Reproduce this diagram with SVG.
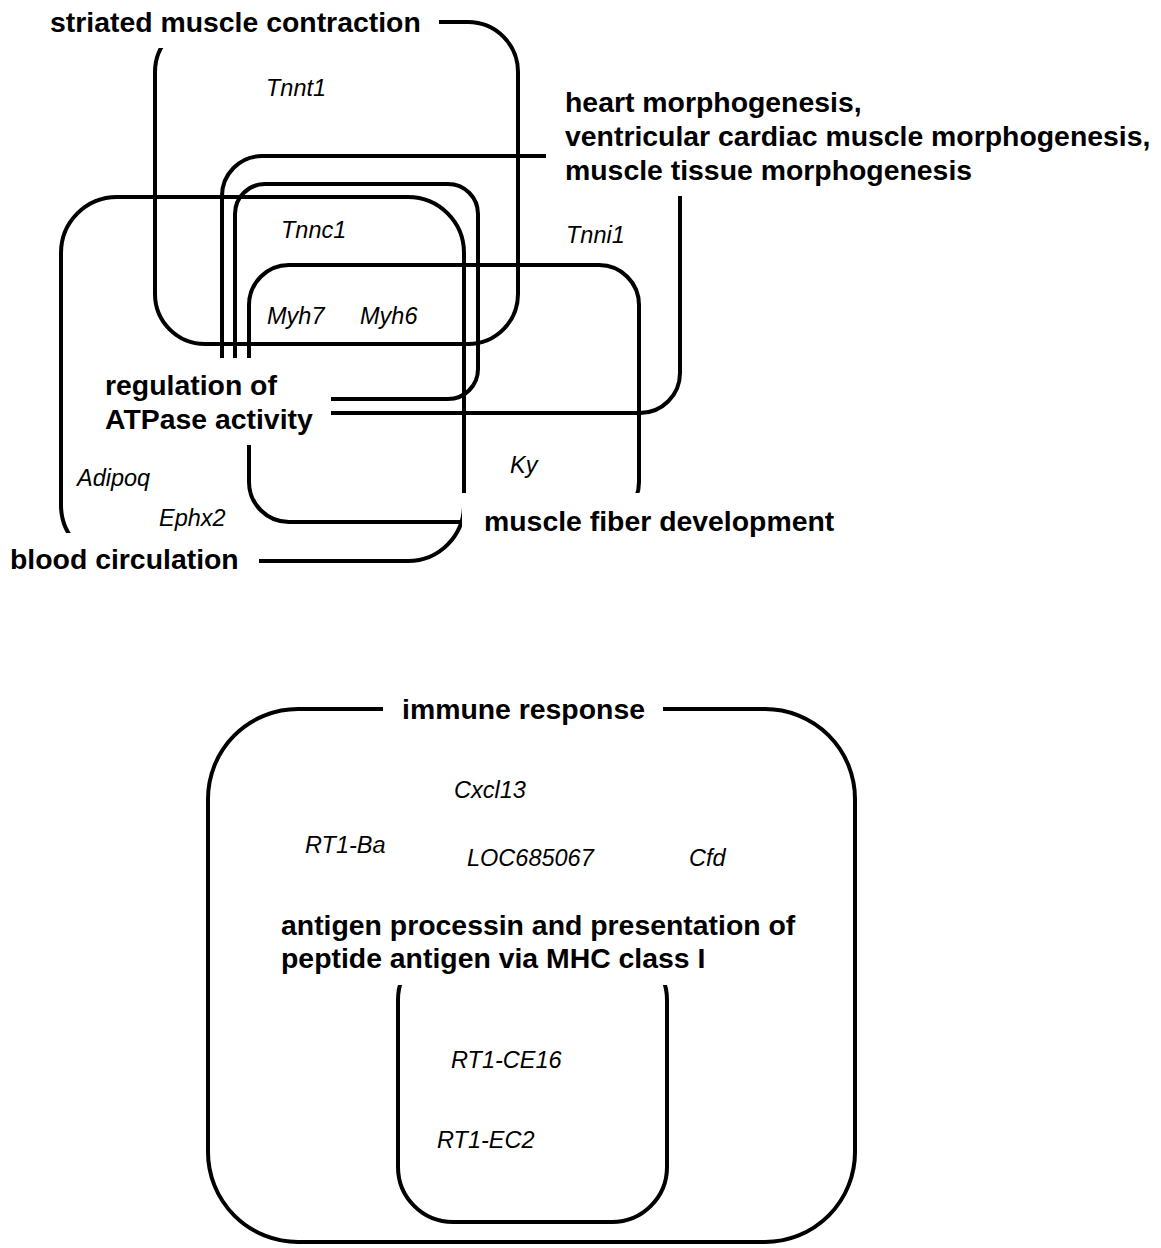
<svg xmlns="http://www.w3.org/2000/svg" width="1161" height="1248" viewBox="0 0 1161 1248">
<style>
.set{fill:none;stroke:#000;stroke-width:4}
.bg{fill:#fff;stroke:none}
.lbl{font-family:"Liberation Sans",Arial,sans-serif;font-weight:bold;font-size:28.4px;fill:#000}
.gene{font-family:"Liberation Sans",Arial,sans-serif;font-style:italic;font-size:23.5px;fill:#000}
</style>
<rect width="1161" height="1248" fill="#fff"/>
<g id="connectors">
<rect id="set-striated" class="set" x="155" y="22" width="363" height="322" rx="50"/>
<rect id="set-heart" class="set" x="222" y="156" width="458" height="257" rx="40"/>
<rect id="set-atpase" class="set" x="235" y="184" width="243" height="215" rx="30"/>
<rect id="set-blood" class="set" x="61" y="197" width="403" height="364" rx="56"/>
<rect id="set-fiber" class="set" x="249" y="265" width="390" height="257" rx="40"/>
<rect id="set-immune" class="set" x="208" y="709" width="647" height="533" rx="90"/>
<rect id="set-antigen" class="set" x="398" y="945" width="269" height="277" rx="55"/>
</g>
<g id="label-striated"><rect class="bg" x="40" y="0" width="399" height="48"/><text class="lbl" x="50" y="32">striated muscle contraction</text></g>
<g id="label-heart"><rect class="bg" x="546" y="80" width="615" height="116"/><text class="lbl" x="565" y="112">heart morphogenesis,</text><text class="lbl" x="565" y="146">ventricular cardiac muscle morphogenesis,</text><text class="lbl" x="565" y="180">muscle tissue morphogenesis</text></g>
<g id="label-atpase"><rect class="bg" x="95" y="358" width="236" height="87"/><text class="lbl" x="105" y="395">regulation of</text><text class="lbl" x="105" y="429">ATPase activity</text></g>
<g id="label-fiber"><rect class="bg" x="462" y="493" width="390" height="52"/><text class="lbl" x="484" y="531">muscle fiber development</text></g>
<g id="label-blood"><rect class="bg" x="0" y="533" width="259" height="52"/><text class="lbl" x="10" y="569">blood circulation</text></g>
<g id="label-immune"><rect class="bg" x="383" y="690" width="280" height="45"/><text class="lbl" x="402" y="719">immune response</text></g>
<g id="label-antigen"><rect class="bg" x="270" y="900" width="540" height="85"/><text class="lbl" x="281" y="935">antigen processin and presentation of</text><text class="lbl" x="281" y="968">peptide antigen via MHC class I</text></g>
<g id="genes">
<text id="g-tnnt1" class="gene" x="266" y="96">Tnnt1</text>
<text id="g-tnnc1" class="gene" x="281" y="238">Tnnc1</text>
<text id="g-tnni1" class="gene" x="566" y="243">Tnni1</text>
<text id="g-myh7" class="gene" x="267" y="324">Myh7</text>
<text id="g-myh6" class="gene" x="360" y="324">Myh6</text>
<text id="g-ky" class="gene" x="510" y="473">Ky</text>
<text id="g-adipoq" class="gene" x="77" y="486">Adipoq</text>
<text id="g-ephx2" class="gene" x="159" y="526">Ephx2</text>
<text id="g-cxcl13" class="gene" x="454" y="798">Cxcl13</text>
<text id="g-rt1ba" class="gene" x="305" y="853">RT1-Ba</text>
<text id="g-loc" class="gene" x="467" y="866">LOC685067</text>
<text id="g-cfd" class="gene" x="689" y="866">Cfd</text>
<text id="g-rt1ce16" class="gene" x="451" y="1068">RT1-CE16</text>
<text id="g-rt1ec2" class="gene" x="437" y="1148">RT1-EC2</text>
</g>
</svg>
